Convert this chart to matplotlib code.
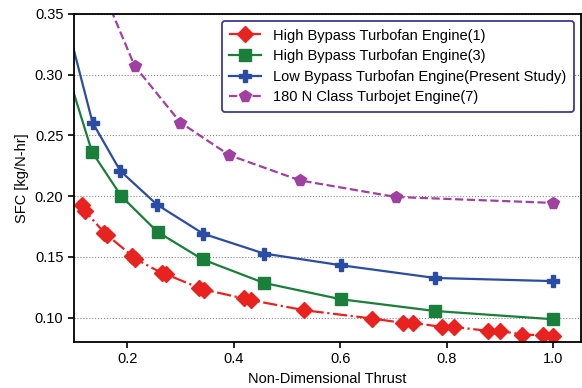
import matplotlib
matplotlib.use("Agg")
import matplotlib.pyplot as plt

plt.rcParams['font.family'] = ['Liberation Sans', 'DejaVu Sans']

# High bypass turbofan, ref (1)
hb1_x = [0.116, 0.121, 0.157, 0.162, 0.209, 0.214, 0.265, 0.273, 0.335, 0.345,
         0.419, 0.433, 0.533, 0.660, 0.718, 0.737, 0.791, 0.813, 0.878, 0.900,
         0.942, 0.981, 1.000]
hb1_y = [0.1925, 0.1876, 0.170, 0.168, 0.151, 0.1486, 0.1367, 0.1357, 0.1244, 0.1230,
         0.1157, 0.1143, 0.1060, 0.0992, 0.0956, 0.0956, 0.0923, 0.0923, 0.0890, 0.0890,
         0.0860, 0.0854, 0.0849]

# High bypass turbofan, ref (3)
hb3_x = [0.070, 0.134, 0.189, 0.257, 0.342, 0.457, 0.601, 0.778, 1.000]
hb3_y = [0.327, 0.2364, 0.1999, 0.1705, 0.1478, 0.1285, 0.1151, 0.1054, 0.0986]

# Low bypass turbofan (present study)
lb_x = [0.070, 0.135, 0.187, 0.256, 0.343, 0.457, 0.601, 0.778, 1.000]
lb_y = [0.371, 0.2606, 0.2208, 0.1930, 0.1690, 0.1527, 0.1431, 0.1326, 0.1300]

# 180 N class turbojet, ref (7)
tj_x = [0.150, 0.214, 0.300, 0.392, 0.524, 0.704, 1.000]
tj_y = [0.374, 0.3072, 0.2606, 0.2337, 0.2130, 0.1993, 0.1944]

labels = ["High Bypass Turbofan Engine(1)",
          "High Bypass Turbofan Engine(3)",
          "Low Bypass Turbofan Engine(Present Study)",
          "180 N Class Turbojet Engine(7)"]

fig = plt.figure(figsize=(5.82, 3.88), dpi=100)
ax = fig.add_axes([0.127, 0.119, 0.871, 0.845])

ax.plot(hb1_x, hb1_y, color='#e8231f', linestyle='-.', linewidth=1.6,
        marker='D', markersize=8, label=labels[0])
ax.plot(hb3_x, hb3_y, color='#1a7f3a', linestyle='-', linewidth=1.6,
        marker='s', markersize=8.5, label=labels[1])
ax.plot(lb_x, lb_y, color='#2a4da3', linestyle='-', linewidth=1.6,
        marker='P', markersize=9, label=labels[2])
ax.plot(tj_x, tj_y, color='#a040a0', linestyle='--', linewidth=1.6,
        marker='p', markersize=8.5, label=labels[3])

ax.set_xlim(0.1, 1.052)
ax.set_ylim(0.08, 0.35)
ax.set_xticks([0.2, 0.4, 0.6, 0.8, 1.0])
ax.set_yticks([0.10, 0.15, 0.20, 0.25, 0.30, 0.35])
ax.set_yticklabels(["0.10", "0.15", "0.20", "0.25", "0.30", "0.35"])
ax.tick_params(labelsize=10.5, width=1.2, length=4)
ax.grid(axis='y', color='#888888', linestyle=':', linewidth=0.8)
for s in ax.spines.values():
    s.set_linewidth(1.3)

ax.set_xlabel("Non-Dimensional Thrust", fontsize=10.5)
ax.set_ylabel("SFC [kg/N-hr]", fontsize=10.5)

leg = ax.legend(loc='upper right', fontsize=10.5, frameon=True, fancybox=True,
                framealpha=1, borderpad=0.5, handlelength=2.2, labelspacing=0.45)
leg.get_frame().set_edgecolor('#3b3b8f')
leg.get_frame().set_linewidth(1.3)

fig.savefig("out.png", dpi=100)
